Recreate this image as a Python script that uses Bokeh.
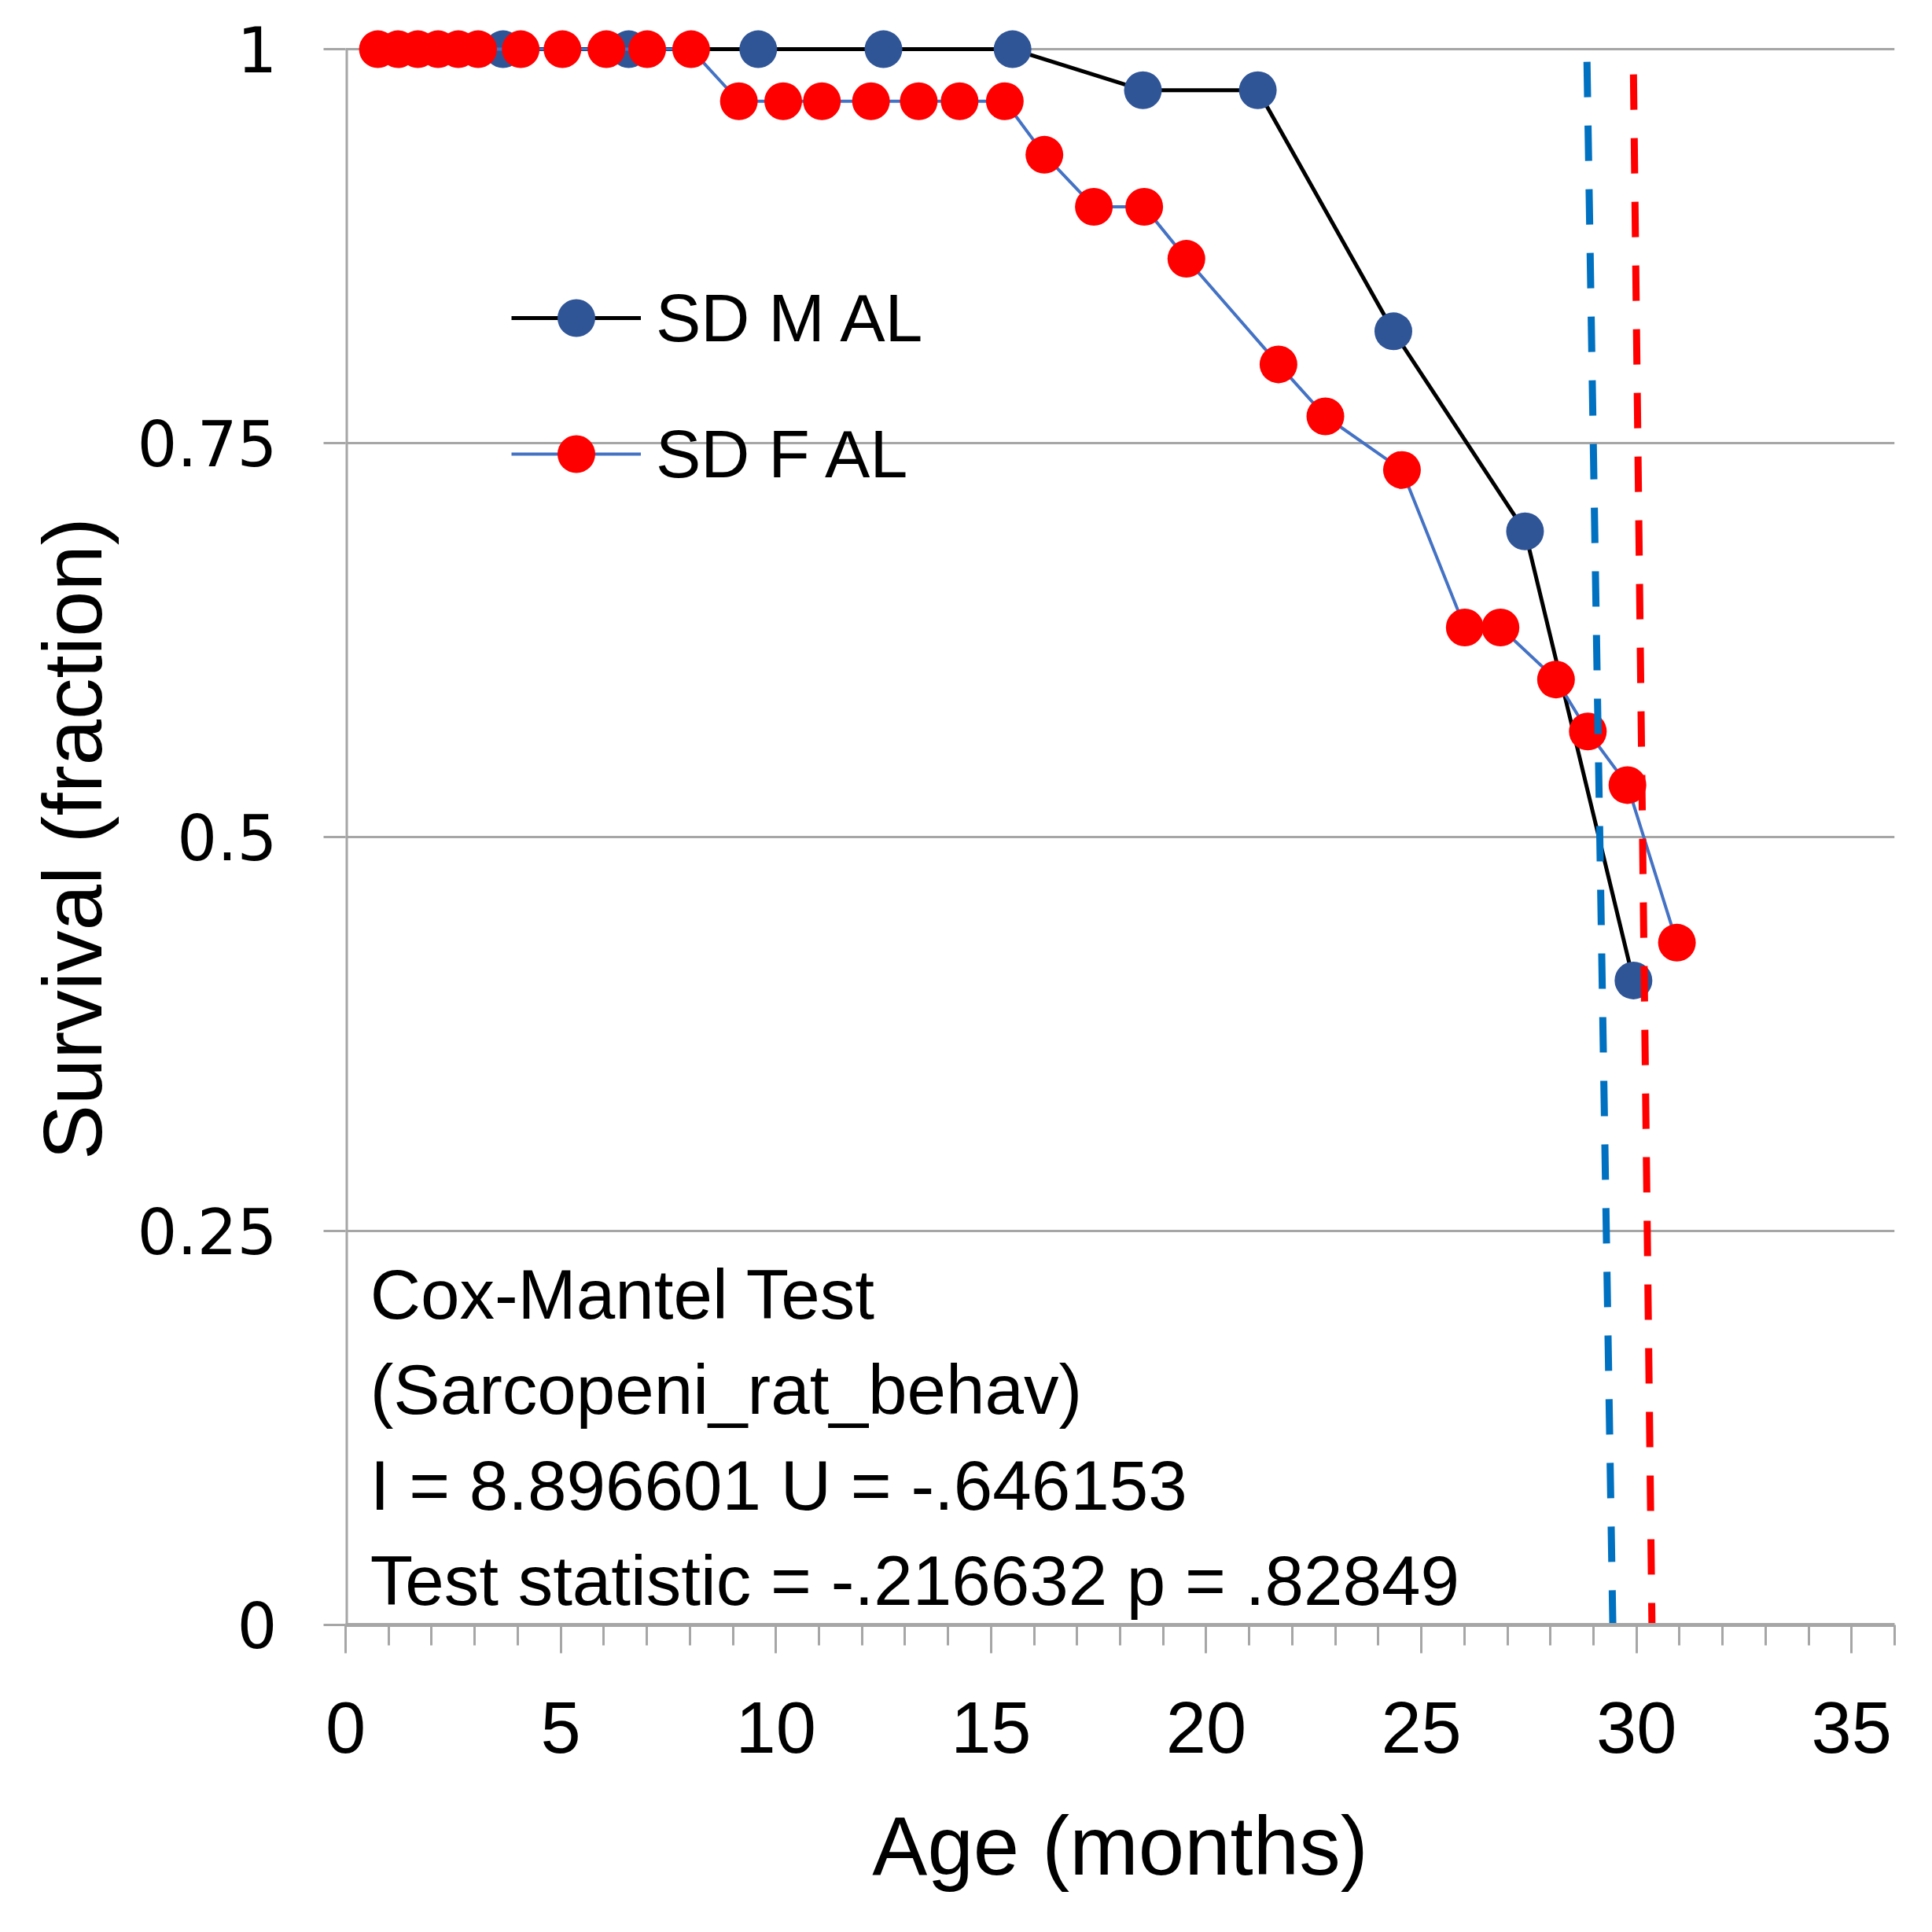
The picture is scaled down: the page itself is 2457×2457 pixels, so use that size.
from bokeh.plotting import figure
from bokeh.models import (Range1d, FixedTicker, Legend, LegendItem, Label)
from bokeh.embed import file_html
from bokeh.resources import INLINE

# ---- data ----
m_age = [3.66, 6.58, 9.59, 12.5, 15.5, 18.53, 21.2, 24.35, 27.41, 29.93]
m_surv = [1.0, 1.0, 1.0, 1.0, 1.0, 0.974, 0.974, 0.821, 0.694, 0.409]

f_age = [0.75, 1.22, 1.68, 2.15, 2.62, 3.08, 4.07, 5.04, 6.06, 7.01, 8.03,
         9.14, 10.17, 11.07, 12.21, 13.32, 14.27, 15.32,
         16.24, 17.39, 18.56, 19.54, 21.68, 22.77, 24.55,
         26.01, 26.84, 28.13, 28.87, 29.79, 30.94]
f_surv = [1.0, 1.0, 1.0, 1.0, 1.0, 1.0, 1.0, 1.0, 1.0, 1.0, 1.0,
          0.967, 0.967, 0.967, 0.967, 0.967, 0.967, 0.967,
          0.933, 0.9, 0.9, 0.867, 0.8, 0.767, 0.733,
          0.633, 0.633, 0.6, 0.567, 0.533, 0.433]

m_median_x = [28.85, 29.45]
m_median_y = [0.992, 0.0]
f_median_x = [29.93, 30.36]
f_median_y = [0.984, 0.0]

series_names = ["SD M AL", "SD F AL"]
y_ticks = [0, 0.25, 0.5, 0.75, 1]
y_tick_labels = ["0", "0.25", "0.5", "0.75", "1"]
x_ticks = [0, 5, 10, 15, 20, 25, 30, 35]
x_minor = list(range(0, 37))
x_title = "Age (months)"
y_title = "Survival (fraction)"

stats_lines = ["Cox-Mantel Test",
               "(Sarcopeni_rat_behav)",
               "I = 8.896601 U = -.646153",
               "Test statistic = -.216632 p = .82849"]
stats_y = [0.2097, 0.1495, 0.0884, 0.0282]

FONT = "Liberation Sans"
GRID = "#A6A6A6"

p = figure(width=2441, height=2452, output_backend="svg", toolbar_location=None,
           x_range=Range1d(0, 36), y_range=Range1d(0, 1.027),
           min_border_left=439, min_border_right=32, min_border_top=8,
           min_border_bottom=386)
p.outline_line_color = None
p.background_fill_color = "white"
p.border_fill_color = "white"

# grid
p.xgrid.visible = False
p.ygrid.ticker = FixedTicker(ticks=y_ticks)
p.ygrid.grid_line_color = GRID
p.ygrid.grid_line_width = 3

# y axis
p.yaxis.ticker = FixedTicker(ticks=y_ticks)
p.yaxis.major_label_overrides = {t: l for t, l in zip(y_ticks, y_tick_labels)}
p.yaxis.axis_line_color = None
p.yaxis.major_tick_line_color = GRID
p.yaxis.major_tick_line_width = 3
p.yaxis.major_tick_out = 28
p.yaxis.major_tick_in = 0
p.yaxis.minor_tick_line_color = None
p.yaxis.major_label_text_font = "DejaVu Sans"
p.yaxis.major_label_text_font_size = "80px"
p.yaxis.major_label_text_color = "black"
p.yaxis.major_label_standoff = 59
# trailing spaces nudge the centred title down to the middle of the 0..1 span
p.yaxis.axis_label = y_title + "  "
p.yaxis.axis_label_text_font = FONT
p.yaxis.axis_label_text_font_size = "105px"
p.yaxis.axis_label_text_font_style = "normal"
p.yaxis.axis_label_text_color = "black"
p.yaxis.axis_label_standoff = 20

# x axis
p.xaxis.ticker = FixedTicker(ticks=x_ticks, minor_ticks=x_minor)
p.xaxis.axis_line_color = GRID
p.xaxis.axis_line_width = 5
p.xaxis.major_tick_line_color = GRID
p.xaxis.major_tick_line_width = 3
p.xaxis.major_tick_out = 36
p.xaxis.major_tick_in = 0
p.xaxis.minor_tick_line_color = GRID
p.xaxis.minor_tick_line_width = 3
p.xaxis.minor_tick_out = 26
p.xaxis.minor_tick_in = 0
p.xaxis.major_label_text_font = FONT
p.xaxis.major_label_text_font_size = "92px"
p.xaxis.major_label_text_color = "black"
p.xaxis.major_label_standoff = 62
p.xaxis.axis_label = x_title
p.xaxis.axis_label_text_font = FONT
p.xaxis.axis_label_text_font_size = "105px"
p.xaxis.axis_label_text_font_style = "normal"
p.xaxis.axis_label_text_color = "black"
p.xaxis.axis_label_standoff = 57

# y axis line (only from 0 to 1)
p.segment(x0=[0], y0=[0], x1=[0], y1=[1], line_color=GRID, line_width=6)

# series
m_line = p.line(m_age, m_surv, line_color="black", line_width=5)
m_pts = p.scatter(m_age, m_surv, size=48, fill_color="#2F5597", line_color=None)
f_line = p.line(f_age, f_surv, line_color="#4472C4", line_width=4)
f_pts = p.scatter(f_age, f_surv, size=48, fill_color="#FF0000", line_color=None)

# median lines
p.line(m_median_x, m_median_y, line_color="#0070C0", line_width=9, line_dash="45 36")
p.line(f_median_x, f_median_y, line_color="#FF0000", line_width=9, line_dash="45 36")

legend = Legend(items=[LegendItem(label=series_names[0], renderers=[m_line, m_pts]),
                       LegendItem(label=series_names[1], renderers=[f_line, f_pts])],
                location=(211, 1429), orientation="vertical",
                glyph_width=165, glyph_height=120, label_height=120,
                spacing=53, padding=0, margin=0, label_standoff=19,
                label_text_font=FONT, label_text_font_size="86px",
                label_text_color="black",
                background_fill_alpha=0, border_line_color=None)
p.add_layout(legend)

for txt, yy in zip(stats_lines, stats_y):
    p.add_layout(Label(x=0.57, y=yy, text=txt, text_font=FONT, text_font_size="89px",
                       text_baseline="middle", text_align="left", text_color="black"))

open("out.html", "w").write(file_html(p, INLINE))
